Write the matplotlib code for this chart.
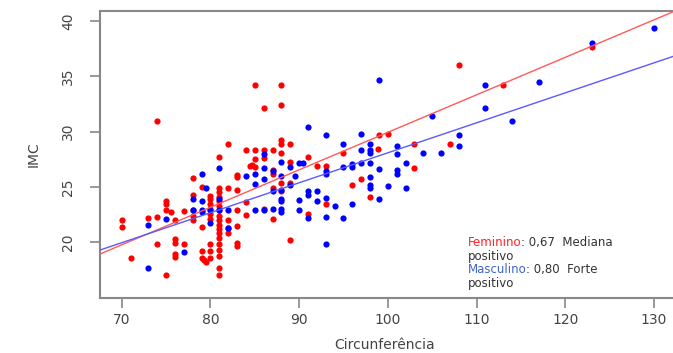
import numpy as np
import matplotlib.pyplot as plt

# Feminino (vermelho)
fem_x = [70, 70, 71, 73, 74, 74, 74,
         75, 75, 75, 75.5, 75,
         76, 76, 76, 76, 76,
         77, 77,
         78, 78, 78, 78, 78,
         79, 79, 79, 79, 79.3, 79.5,
         80, 80, 80, 80, 80, 80, 80, 80, 80,
         81, 81, 81, 81, 81, 81, 81, 81, 81, 81, 81, 81, 81, 81, 81, 81, 81, 81,
         82, 82, 82, 82, 82,
         83, 83, 83, 83, 83, 83, 83,
         84, 84, 84,
         84.5, 85, 85, 85, 85, 84.7,
         86, 86, 86, 86,
         87, 87, 87, 87, 87,
         88, 88, 88, 88, 88, 88, 88,
         89, 89, 89, 89,
         91, 91, 92, 93, 93,
         95, 96, 97, 98, 98.9, 99, 100,
         103, 103, 107, 108, 113, 123]
fem_y = [22.0, 21.4, 18.6, 22.2, 22.3, 19.8, 31.0,
         23.7, 23.5, 22.9, 22.7, 17.0,
         22.0, 20.3, 19.9, 18.9, 18.7,
         22.8, 19.8,
         25.8, 24.3, 22.9, 22.4, 22.0,
         25.0, 21.4, 19.2, 18.6, 18.4, 18.2,
         24.2, 23.9, 23.5, 23.0, 22.6, 22.1, 19.8, 19.2, 18.6,
         27.7, 24.9, 24.5, 24.1, 23.7, 23.3, 22.9, 22.4, 22.0, 21.6, 21.2, 20.8, 20.4, 19.8, 19.3, 18.8, 17.7, 17.0,
         28.9, 24.9, 22.0, 21.3, 20.8,
         26.1, 25.9, 24.7, 22.9, 21.5, 19.9, 19.7,
         28.35, 23.6, 22.5,
         26.9, 26.8, 34.2, 28.35, 27.5, 27.0,
         32.1, 28.35, 27.6, 23.0,
         28.35, 26.5, 26.2, 24.9, 22.1,
         34.2, 32.4, 29.25, 28.9, 28.05, 25.4, 24.6,
         28.9, 27.3, 25.4, 20.2,
         27.7, 22.6, 26.9, 26.9, 23.5,
         28.1, 25.2, 25.7, 24.1, 28.4, 29.7, 29.8,
         28.9, 26.7, 28.9, 36.0, 34.2, 37.7]

# Masculino (azul)
mas_x = [73, 73, 75, 77,
         78, 78, 79, 79, 79, 79, 79.5,
         80, 80,
         81, 81, 81,
         82, 82,
         84, 85, 85, 85, 86, 86, 86, 86,
         87, 87, 87,
         88, 88, 88, 88, 88, 88, 88,
         89, 89, 89.5, 90, 90.4,
         90, 90, 91, 91, 91, 91,
         92, 92, 93, 93, 93, 93, 93, 93,
         94, 95, 95, 95, 96, 96, 96,
         97, 97, 97, 98, 98, 98, 98, 98, 98, 98,
         99, 99, 99, 100,
         101, 101, 101, 101, 102, 102,
         104, 105, 106, 108, 108,
         111, 111, 114, 117, 123, 130]
mas_y = [21.6, 17.7, 22.1, 19.1,
         23.9, 22.9, 26.2, 23.7, 22.9, 22.7, 24.9,
         22.9, 21.7,
         26.75, 23.9, 22.9,
         22.9, 21.3,
         26.0, 26.2, 25.3, 22.9, 22.9, 25.7, 26.7, 27.95,
         26.4, 24.6, 23.0,
         27.3, 26.0, 24.7, 23.9, 23.7, 23.0, 22.7,
         26.8, 25.2, 26.0, 27.2, 27.2,
         23.8, 22.9, 30.4, 24.6, 24.3, 22.2,
         24.6, 23.7, 29.7, 26.4, 26.2, 24.0, 22.3, 19.8,
         23.3, 28.9, 26.8, 22.2, 27.1, 26.8, 23.5,
         29.8, 28.3, 27.2, 28.9, 28.3, 28.05, 27.2, 25.9, 25.2, 24.9,
         26.6, 23.9, 34.7, 25.1,
         28.7, 28.0, 26.5, 26.2, 27.2, 24.9,
         28.05, 31.4, 28.05, 29.7, 28.7,
         34.2, 32.1, 31.0, 34.5, 38.0, 39.35]

# retas de regressao (inclinacao, intercepto)
fem_fit = [0.339, -3.96]
mas_fit = [0.271, 0.99]

x_ticks = [70, 80, 90, 100, 110, 120, 130]
y_ticks = [20, 25, 30, 35, 40]

fig = plt.figure(figsize=(6.73, 3.53), dpi=100)
ax = fig.add_axes([0.1486, 0.1558, 0.8514, 0.813])

ax.scatter(fem_x, fem_y, s=20, color='#ff0000', linewidths=0, zorder=2)
ax.scatter(mas_x, mas_y, s=20, color='#0000ff', linewidths=0, zorder=2)

xl = np.array([67.55, 132.15])
ax.plot(xl, fem_fit[0] * xl + fem_fit[1], color='#ff5a5a', lw=1, zorder=3)
ax.plot(xl, mas_fit[0] * xl + mas_fit[1], color='#5a5aff', lw=1, zorder=3)

ax.set_xlim(67.55, 132.15)
ax.set_ylim(14.96, 40.91)
ax.set_xticks(x_ticks)
ax.set_yticks(y_ticks)
ax.tick_params(colors='#888888', labelcolor='#444444', length=7, width=1.2,
               labelsize=10)
ax.tick_params(axis='x', pad=4)
ax.tick_params(axis='y', pad=11)
for lab in ax.get_yticklabels():
    lab.set_rotation(90)
    lab.set_va('center')

ax.spines['right'].set_visible(False)
for s in ['left', 'top', 'bottom']:
    ax.spines[s].set_color('#888888')
    ax.spines[s].set_linewidth(1.5)

ylab = ax.set_ylabel('IMC', fontsize=10, color='#444444')
ylab.set_va('center')
ax.yaxis.set_label_coords(-0.115, 0.5)
xlab = ax.set_xlabel('Circunferência', fontsize=10, color='#444444')
xlab.set_va('center')
ax.xaxis.set_label_coords(0.497, -0.164)

# legenda em texto
fs = 8.5
t1 = ax.text(109.0, 20.0, 'Feminino', color='#ff2020', fontsize=fs, va='center')
ax.annotate(': 0,67  Mediana', xy=(1, 0.5), xycoords=t1, va='center',
            fontsize=fs, color='#333333')
ax.text(109.0, 18.75, 'positivo', color='#333333', fontsize=fs, va='center')
t3 = ax.text(109.0, 17.55, 'Masculino', color='#3c64c8', fontsize=fs, va='center')
ax.annotate(': 0,80  Forte', xy=(1, 0.5), xycoords=t3, va='center',
            fontsize=fs, color='#333333')
ax.text(109.0, 16.3, 'positivo', color='#333333', fontsize=fs, va='center')

fig.savefig('out.png', dpi=100)
